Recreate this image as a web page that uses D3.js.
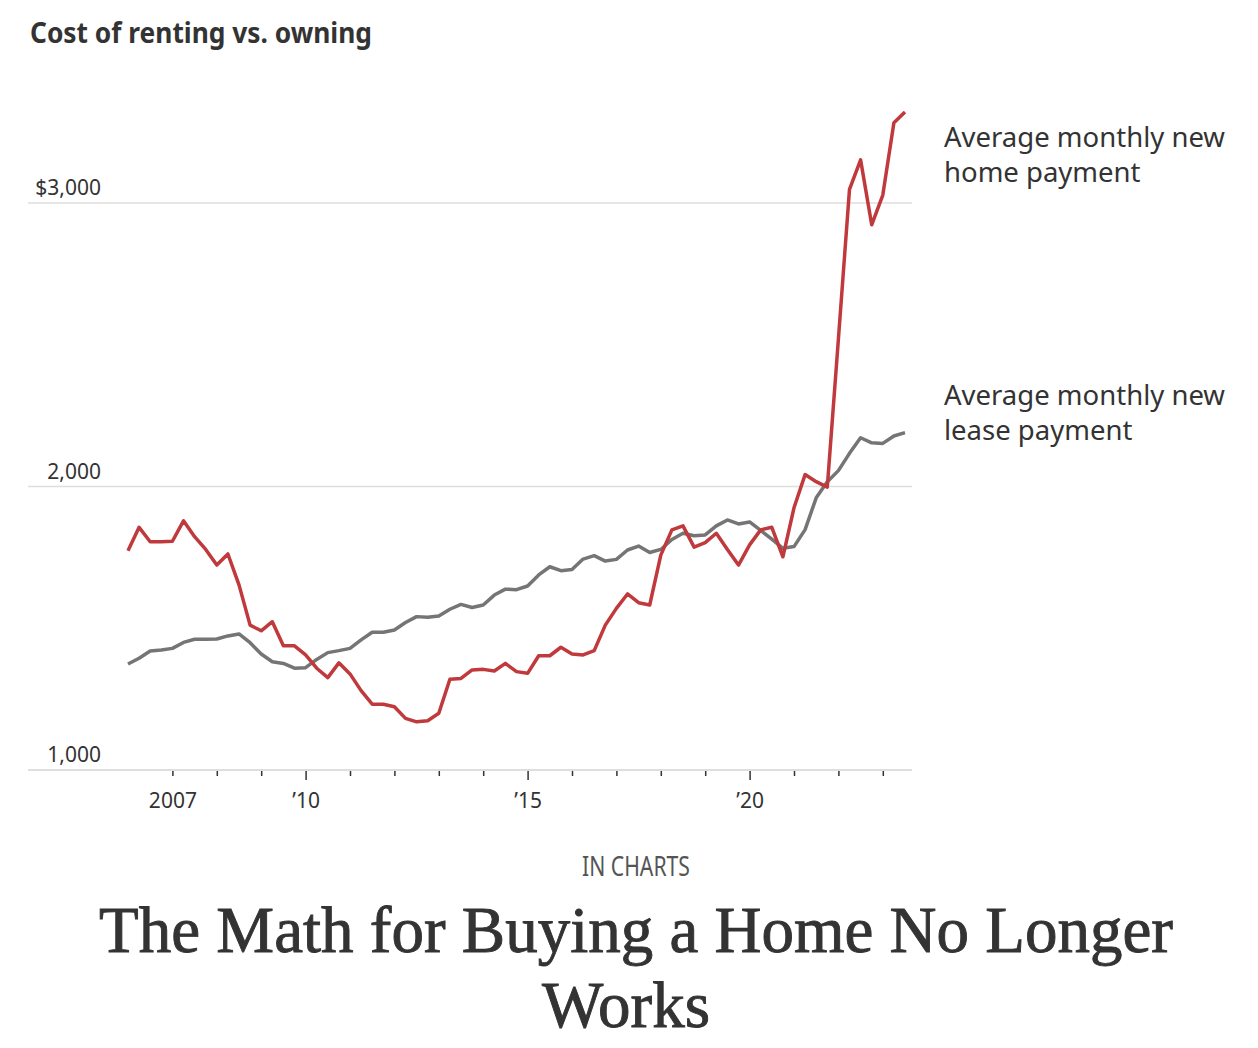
<!DOCTYPE html>
<html>
<head>
<meta charset="utf-8">
<script src="https://cdn.jsdelivr.net/npm/d3@7"></script>
<style>
  body { margin: 0; background: #fff; }
  svg { display: block; }
  text { fill: #333; font-family: "Noto Sans", sans-serif; }
</style>
</head>
<body>
<div id="chart"></div>
<script>
// quarterly values, 2006 Q1 .. 2023 Q3
var startYear = 2006;

var homePayment = [
  1773, 1856, 1805, 1805, 1807, 1879, 1823, 1778, 1723, 1762,
  1653, 1511, 1491, 1523, 1438, 1438, 1406, 1359, 1326, 1378,
  1339, 1280, 1232, 1232, 1223, 1182, 1170, 1174, 1200, 1320,
  1323, 1353, 1355, 1349, 1376, 1347, 1341, 1403, 1403, 1433,
  1409, 1406, 1421, 1511, 1570, 1621, 1590, 1582, 1758, 1847,
  1861, 1786, 1802, 1835, 1778, 1723, 1794, 1847, 1856, 1752,
  1925, 2042, 2017, 1998, 2520, 3048, 3152, 2923, 3028, 3283,
  3321
];

var leasePayment = [
  1374, 1394, 1420, 1423, 1429, 1450, 1461, 1461, 1462, 1473,
  1480, 1449, 1409, 1382, 1376, 1359, 1361, 1390, 1414, 1421,
  1429, 1459, 1486, 1486, 1494, 1520, 1541, 1539, 1543, 1567,
  1584, 1573, 1582, 1617, 1638, 1636, 1649, 1688, 1717, 1703,
  1707, 1744, 1756, 1737, 1743, 1776, 1790, 1767, 1778, 1813,
  1835, 1826, 1829, 1861, 1882, 1868, 1875, 1845, 1814, 1782,
  1788, 1848, 1960, 2017, 2056, 2117, 2172, 2154, 2152, 2178,
  2190
];

var yTicks = [1000, 2000, 3000];
var yTickLabels = ["1,000", "2,000", "$3,000"];
var xTicks = [2007, 2008, 2009, 2010, 2011, 2012, 2013, 2014, 2015,
              2016, 2017, 2018, 2019, 2020, 2021, 2022, 2023];
var xLabels = { 2007: "2007", 2010: "\u201910", 2015: "\u201915", 2020: "\u201920" };

var width = 1258, height = 1048;

var svg = d3.select("#chart").append("svg")
    .attr("width", width)
    .attr("height", height);

var x = d3.scaleLinear().domain([2006, 2023.5]).range([128, 905]);
var y = d3.scaleLinear().domain([1000, 3000]).range([770, 203]);

var dateOf = function(i) { return startYear + i / 4; };

// shrink/grow font so a text fits a given width without squashing
function fitWidth(sel, target) {
  var fs = +sel.attr("font-size");
  var w = sel.node().getComputedTextLength();
  if (w > 0) sel.attr("font-size", fs * target / w);
  return sel;
}

// chart title
svg.append("text")
    .attr("x", 30).attr("y", 43)
    .attr("font-size", 28).attr("font-weight", 700)
    .attr("textLength", 342).attr("lengthAdjust", "spacingAndGlyphs")
    .text("Cost of renting vs. owning");

// gridlines + y labels
var gy = svg.append("g").attr("class", "y-grid");
gy.selectAll("line")
    .data(yTicks.filter(d => d !== 1000))
  .enter().append("line")
    .attr("x1", 28).attr("x2", 912)
    .attr("y1", d => y(d)).attr("y2", d => y(d))
    .attr("stroke", "#dedede").attr("stroke-width", 1.5);

gy.selectAll("text")
    .data(yTicks)
  .enter().append("text")
    .attr("x", 101)
    .attr("y", d => y(d) - 8)
    .attr("text-anchor", "end")
    .attr("font-size", 21)
    .text((d, i) => yTickLabels[i]);

// x axis
var xAxis = d3.axisBottom(x)
    .tickValues(xTicks)
    .tickSize(0)
    .tickFormat(d => xLabels[d] || "");

var gx = svg.append("g")
    .attr("transform", "translate(0," + y(1000) + ")")
    .call(xAxis);
gx.select(".domain").remove();
gx.append("line")
    .attr("x1", 28).attr("x2", 912)
    .attr("stroke", "#dedede").attr("stroke-width", 2);
gx.selectAll(".tick line")
    .attr("y2", d => (d % 5 === 0) ? 10 : 6)
    .attr("stroke", "#333").attr("stroke-width", 1.5);
gx.selectAll(".tick text")
    .attr("y", 38)
    .attr("dy", 0)
    .attr("font-size", 21)
    .attr("font-family", "Noto Sans, sans-serif")
    .attr("fill", "#333");

// lines
var line = d3.line()
    .x((d, i) => x(dateOf(i)))
    .y(d => y(d));

svg.append("path")
    .datum(leasePayment)
    .attr("fill", "none")
    .attr("stroke", "#757575")
    .attr("stroke-width", 3.5)
    .attr("stroke-linejoin", "round")
    .attr("d", line);

svg.append("path")
    .datum(homePayment)
    .attr("fill", "none")
    .attr("stroke", "#c0393c")
    .attr("stroke-width", 3.5)
    .attr("stroke-linejoin", "round")
    .attr("d", line);

// series labels
var seriesLabels = [
  { lines: ["Average monthly new", "home payment"], y: 147 },
  { lines: ["Average monthly new", "lease payment"], y: 405 }
];
seriesLabels.forEach(function(s) {
  s.lines.forEach(function(t, j) {
    svg.append("text")
      .attr("x", 944)
      .attr("y", s.y + j * 35)
      .attr("font-size", 27.5)
      .text(t);
  });
});

// headline below
svg.append("text")
    .attr("x", 636).attr("y", 876)
    .attr("text-anchor", "middle")
    .attr("font-size", 27)
    .style("fill", "#555")
    .attr("textLength", 108).attr("lengthAdjust", "spacingAndGlyphs")
    .text("IN CHARTS");

var head1 = svg.append("text")
    .attr("x", 636).attr("y", 952)
    .attr("text-anchor", "middle")
    .attr("font-size", 72)
    .style("font-family", "'Liberation Serif', serif")
    .style("stroke", "#333").style("stroke-width", 0.9)
    .text("The Math for Buying a Home No Longer");
fitWidth(head1, 1074);

svg.append("text")
    .attr("x", 626).attr("y", 1027)
    .attr("text-anchor", "middle")
    .attr("font-size", head1.attr("font-size"))
    .style("font-family", "'Liberation Serif', serif")
    .style("stroke", "#333").style("stroke-width", 0.9)
    .text("Works");
</script>
</body>
</html>
